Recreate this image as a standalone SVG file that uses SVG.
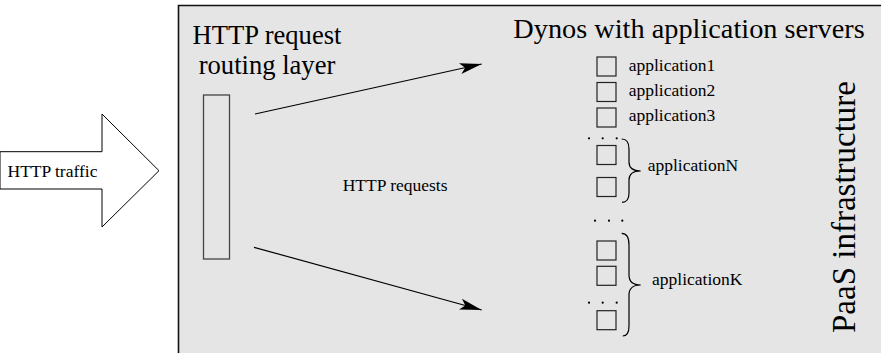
<svg xmlns="http://www.w3.org/2000/svg" width="881" height="353" viewBox="0 0 881 353">
<style>
.lbl{font-family:'Liberation Serif','Times New Roman',serif;font-size:17.5px;fill:#000}
.ttl{font-family:'Liberation Serif','Times New Roman',serif;font-size:26.6px;fill:#000}
.box{fill:none;stroke:#222;stroke-width:1.2}
.ln{fill:none;stroke:#000;stroke-width:1.2}
.dot{fill:#000}
</style>
<defs>
<marker id="ah" markerUnits="userSpaceOnUse" markerWidth="30" markerHeight="14" refX="24" refY="7" orient="auto">
<path d="M24,7 L2,1.5 L7,7 L2,12.5 Z" fill="#000"/>
</marker>
</defs>
<rect x="178.5" y="5.5" width="703" height="348" fill="#e5e5e5"/>
<path d="M178.5,353 V5.5 H881" fill="none" stroke="#111" stroke-width="1.6"/>
<g id="traffic">
<polygon points="0,151.7 102,151.7 102,114 159,170.7 102,227 102,189 0,189" fill="#fff" stroke="#000" stroke-width="1"/>
<text class="lbl" x="7.5" y="177">HTTP traffic</text>
</g>
<g id="routing">
<text class="ttl" x="267" y="44" text-anchor="middle">HTTP request</text>
<text class="ttl" x="267" y="74" text-anchor="middle">routing layer</text>
<rect x="203.5" y="95" width="26" height="164" fill="none" stroke="#444" stroke-width="1.3"/>
</g>
<g id="connectors">
<line class="ln" x1="255" y1="114" x2="481.7" y2="64" marker-end="url(#ah)"/>
<line class="ln" x1="254" y1="247.3" x2="481.7" y2="310" marker-end="url(#ah)"/>
</g>
<g id="requests-label">
<text class="lbl" x="342.7" y="191">HTTP requests</text>
</g>
<g id="dynos-title">
<text class="ttl" style="font-size:28.3px" x="689" y="38" text-anchor="middle">Dynos with application servers</text>
</g>
<g id="app1">
<rect class="box" x="597" y="57" width="19" height="19"/>
<text class="lbl" x="628.7" y="71">application1</text>
</g>
<g id="app2">
<rect class="box" x="597" y="82.5" width="19" height="19"/>
<text class="lbl" x="628.7" y="95.5">application2</text>
</g>
<g id="app3">
<rect class="box" x="597" y="108" width="19" height="19"/>
<text class="lbl" x="628.7" y="121">application3</text>
</g>
<g id="appN">
<circle class="dot" cx="589" cy="138.3" r="1.1"/>
<circle class="dot" cx="602.7" cy="138.3" r="1.1"/>
<circle class="dot" cx="616.7" cy="138.3" r="1.1"/>
<rect class="box" x="597" y="145.5" width="19" height="19"/>
<rect class="box" x="597" y="177.5" width="19" height="19"/>
<path class="ln" d="M621.7,139 Q629,139 629,149 L629,162 Q629,171 640.7,171 Q629,171 629,180 L629,193 Q629,202.3 622,202.3"/>
<text class="lbl" x="647.7" y="171">applicationN</text>
</g>
<g id="gap-dots">
<circle class="dot" cx="595" cy="220.7" r="1.1"/>
<circle class="dot" cx="609" cy="220.7" r="1.1"/>
<circle class="dot" cx="622.3" cy="220.7" r="1.1"/>
</g>
<g id="appK">
<rect class="box" x="597" y="241" width="19" height="19"/>
<rect class="box" x="597" y="266.3" width="19" height="19"/>
<circle class="dot" cx="589" cy="302.7" r="1.1"/>
<circle class="dot" cx="602.7" cy="302.7" r="1.1"/>
<circle class="dot" cx="616.7" cy="302.7" r="1.1"/>
<rect class="box" x="597" y="310.7" width="19" height="19"/>
<path class="ln" d="M621.7,233.3 Q629,233.3 629,245 L629,275 Q629,285 640.7,285 Q629,285 629,295 L629,326 Q629,336 622.7,336"/>
<text class="lbl" x="652" y="285">applicationK</text>
</g>
<g id="paas">
<text class="ttl" style="font-size:33px" transform="translate(855,333) rotate(-90)">PaaS infrastructure</text>
</g>
</svg>
